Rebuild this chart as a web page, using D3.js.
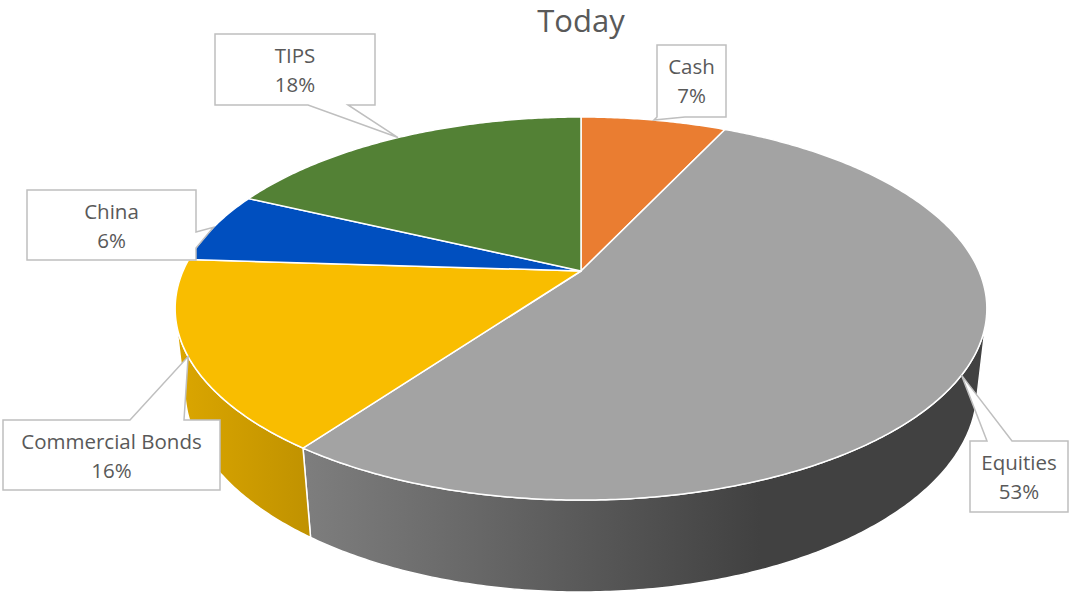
<!DOCTYPE html>
<html>
<head>
<meta charset="utf-8">
<script src="https://cdn.jsdelivr.net/npm/d3@7"></script>
<style>
  html, body { margin: 0; padding: 0; background: #fff; }
  svg { display: block; }
</style>
</head>
<body>
<svg id="chart" width="1069" height="597"></svg>
<script>
// ---- data ----
const categories = ["Cash", "Equities", "Commercial Bonds", "China", "TIPS"];
const values = [7, 53, 16, 6, 18];
const percentLabels = ["7%", "53%", "16%", "6%", "18%"];
const title = "Today";

// ---- styles ----
const sliceColors = ["#EA7D31", "#A3A3A3", "#F9BD00", "#004FBF", "#538135"];
const textColor = "#595959";
const fontFamily = "'Open Sans', 'Liberation Sans', sans-serif";

// ---- layout: perspective projection of a tilted disc ----
const W = 1069, H = 597;
const cx = 581, cy = 271;
const sinA = 0.4628, cosA = 0.8865;
const Dist = 4.523, focal = 1800;
const thick = 0.231;

function project(theta, h) {
  const X = Math.sin(theta), Z = Math.cos(theta);
  const yc = Z * sinA - h * cosA;
  const zc = Dist + Z * cosA + h * sinA;
  return [cx + focal * X / zc, cy - focal * yc / zc];
}
function arcPoints(a0, a1, h) {
  const n = Math.max(2, Math.ceil(Math.abs(a1 - a0) / 0.01) + 1);
  const pts = [];
  for (let i = 0; i < n; i++) pts.push(project(a0 + (a1 - a0) * i / (n - 1), h));
  return pts;
}

const svg = d3.select("#chart");
const defs = svg.append("defs");

const pie = d3.pie().sort(null).value(d => d.value).startAngle(0).endAngle(2 * Math.PI);
const data = categories.map((c, i) => ({ name: c, value: values[i], pct: percentLabels[i], color: sliceColors[i] }));
const arcs = pie(data);

const line = d3.line().curve(d3.curveLinear);

// visible wall range (front-facing)
const limit = Math.acos(-1 / (Dist * cosA));
const visLo = limit, visHi = 2 * Math.PI - limit;

// shading factor across screen x
const shadeX = d3.scaleLinear().domain([176, 760, 987]).range([0.88, 0.40, 0.40]).clamp(true);

const wallG = svg.append("g");
arcs.forEach((a, i) => {
  const lo = Math.max(a.startAngle, visLo), hi = Math.min(a.endAngle, visHi);
  if (hi <= lo) return;
  const gid = "wallgrad" + i;
  const grad = defs.append("linearGradient").attr("id", gid)
    .attr("gradientUnits", "userSpaceOnUse")
    .attr("x1", 176).attr("x2", 987).attr("y1", 0).attr("y2", 0);
  const base = d3.rgb(a.data.color);
  [176, 310, 480, 620, 760, 987].forEach(x => {
    const f = shadeX(x);
    grad.append("stop").attr("offset", (x - 176) / (987 - 176))
      .attr("stop-color", d3.rgb(base.r * f, base.g * f, base.b * f).formatHex());
  });
  const top = arcPoints(lo, hi, 0);
  const bot = arcPoints(hi, lo, thick);
  wallG.append("path")
    .attr("d", line(top.concat(bot)) + "Z")
    .attr("fill", `url(#${gid})`)
    .attr("stroke", "#ffffff")
    .attr("stroke-width", 1.5)
    .attr("stroke-linejoin", "round");
});

const topG = svg.append("g");
arcs.forEach(a => {
  const pts = [[cx, cy]].concat(arcPoints(a.startAngle, a.endAngle, 0));
  topG.append("path")
    .attr("d", line(pts) + "Z")
    .attr("fill", a.data.color)
    .attr("stroke", "#ffffff")
    .attr("stroke-width", 1.5)
    .attr("stroke-linejoin", "round");
});

// ---- callouts ----
const boxes = {
  "Cash":             { x0: 657, y0: 45,  x1: 726,  y1: 117, edge: "bottom", a: 657, b: 685 },
  "Equities":         { x0: 970, y0: 441, x1: 1068, y1: 512, edge: "top",    a: 987, b: 1012 },
  "Commercial Bonds": { x0: 3,   y0: 420, x1: 220,  y1: 490, edge: "top",    a: 130, b: 184 },
  "China":            { x0: 27,  y0: 190, x1: 196,  y1: 260, edge: "right",  a: 232, b: 248 },
  "TIPS":             { x0: 215, y0: 34,  x1: 375,  y1: 105, edge: "bottom", a: 308, b: 348 }
};

function calloutPoints(bx, tip) {
  const { x0, y0, x1, y1, edge, a, b } = bx;
  const p = [];
  p.push([x0, y0]);
  if (edge === "top") p.push([a, y0], tip, [b, y0]);
  p.push([x1, y0]);
  if (edge === "right") p.push([x1, a], tip, [x1, b]);
  p.push([x1, y1]);
  if (edge === "bottom") p.push([b, y1], tip, [a, y1]);
  p.push([x0, y1]);
  if (edge === "left") p.push([x0, b], tip, [x0, a]);
  return p;
}

const calloutG = svg.append("g");
arcs.forEach(a => {
  const bx = boxes[a.data.name];
  const mid = (a.startAngle + a.endAngle) / 2;
  const tip = project(mid, 0);
  calloutG.append("path")
    .attr("d", line(calloutPoints(bx, tip)) + "Z")
    .attr("fill", "#ffffff")
    .attr("stroke", "#BFBFBF")
    .attr("stroke-width", 1.5)
    .attr("stroke-linejoin", "miter");
  const tx = (bx.x0 + bx.x1) / 2;
  const t = calloutG.append("text")
    .attr("text-anchor", "middle")
    .attr("font-family", fontFamily)
    .attr("font-size", 20.5)
    .attr("fill", textColor);
  t.append("tspan").attr("x", tx).attr("y", bx.y0 + 29).text(a.data.name);
  t.append("tspan").attr("x", tx).attr("y", bx.y0 + 58).text(a.data.pct);
});

// ---- title ----
svg.append("text")
  .attr("x", 581).attr("y", 32)
  .attr("text-anchor", "middle")
  .attr("font-family", fontFamily)
  .attr("font-size", 31)
  .attr("fill", textColor)
  .text(title);
</script>
</body>
</html>
